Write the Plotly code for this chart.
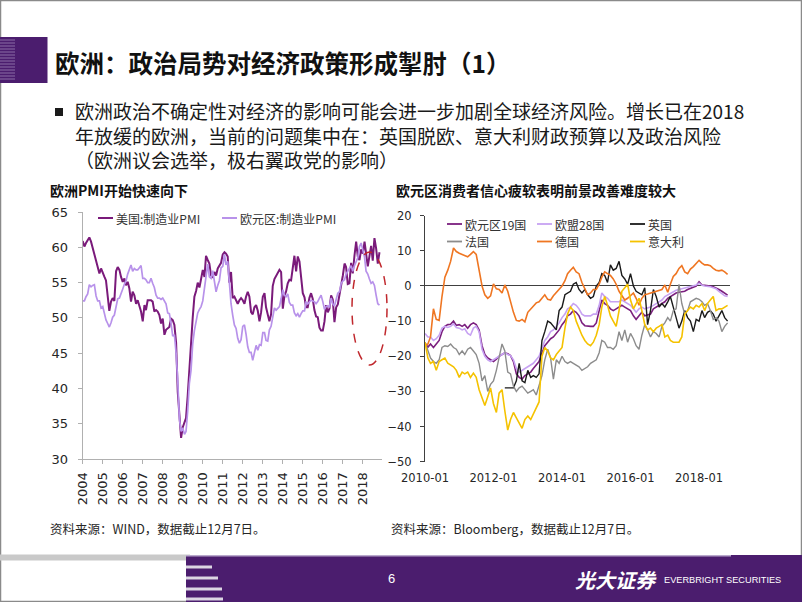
import plotly.graph_objects as go
import pandas as pd

# ---------------- data: left chart (manufacturing PMI, monthly 2004-01 .. 2018-11)
pmi_series_names = ["美国:制造业PMI", "欧元区:制造业PMI"]
us_pmi = [
    60.9, 60.1, 60.6, 61.0, 61.4, 60.8, 59.9, 58.9, 58.0, 57.0, 56.3, 57.0,
    56.5, 55.8, 55.3, 53.5, 51.0, 52.3, 52.8, 52.4, 56.6, 57.2, 56.8, 55.8,
    55.1, 55.6, 54.6, 55.1, 54.2, 52.3, 53.7, 53.2, 52.0, 52.5, 51.8, 50.9,
    49.5, 51.8, 51.1, 52.5, 52.5, 52.5, 52.3, 50.9, 51.1, 50.9, 50.4, 49.2,
    49.9, 47.6, 48.3, 48.5, 48.7, 49.9, 49.7, 49.0, 46.5, 39.5, 36.0, 33.0,
    34.5, 35.3, 35.8, 39.0, 43.0, 46.5, 50.0, 53.0, 53.8, 55.0, 54.3, 55.5,
    56.8, 55.8, 58.8, 58.2, 57.7, 56.0, 55.8, 56.5, 56.0, 57.0, 57.5, 57.8,
    59.0, 59.3, 59.1, 58.7, 55.0, 56.5, 52.8, 53.0, 52.5, 52.0, 52.5, 52.8,
    52.5, 52.0, 53.0, 53.7, 53.0, 50.8, 50.5, 51.5, 51.8, 51.0, 49.5, 50.8,
    53.0, 53.5, 51.5, 50.5, 49.5, 50.5, 54.5, 55.5, 56.0, 56.3, 56.8, 56.5,
    51.3, 53.2, 53.7, 54.9, 55.4, 55.3, 57.1, 58.8, 56.6, 58.7, 58.0, 55.5,
    53.5, 52.9, 51.5, 51.5, 52.8, 53.5, 52.7, 51.1, 50.2, 50.1, 48.6, 48.2,
    48.2, 49.5, 51.8, 50.8, 51.3, 53.2, 52.6, 49.4, 51.5, 51.9, 53.2, 54.7,
    56.0, 57.7, 57.2, 54.8, 54.9, 57.8, 56.3, 58.8, 60.8, 58.7, 58.2, 59.7,
    59.1, 60.8, 59.3, 57.3, 58.7, 60.2, 58.1, 61.3, 59.8, 57.7, 59.3,
]
ez_pmi = [
    52.4, 52.4, 53.0, 53.4, 54.7, 54.4, 54.6, 54.7, 53.1, 52.4, 52.4, 51.4,
    51.6, 50.4, 49.7, 49.2, 48.7, 49.3, 50.1, 50.4, 51.7, 52.7, 52.8, 53.6,
    54.1, 54.8, 55.2, 56.2, 56.9, 57.5, 56.6, 57.0, 56.8, 56.8, 57.1, 57.4,
    55.6, 55.6, 55.4, 55.0, 55.0, 55.6, 54.9, 54.3, 53.2, 52.8, 52.8, 52.6,
    52.8, 52.3, 52.0, 50.7, 50.6, 49.2, 47.4, 47.6, 45.0, 41.1, 35.6, 33.9,
    34.4, 33.5, 33.9, 36.8, 40.7, 42.6, 46.3, 48.2, 49.3, 50.7, 51.2, 51.6,
    52.4, 54.2, 56.6, 57.6, 55.8, 55.6, 56.7, 55.1, 53.7, 54.6, 55.3, 57.1,
    57.3, 59.0, 57.5, 58.0, 54.6, 52.0, 50.4, 49.0, 48.5, 47.1, 46.4, 46.9,
    48.8, 49.0, 47.7, 45.9, 45.1, 45.1, 44.0, 45.1, 46.1, 45.4, 46.2, 46.1,
    47.9, 47.9, 46.8, 46.7, 48.3, 48.8, 50.3, 51.4, 51.1, 51.3, 51.6, 52.7,
    54.0, 53.2, 53.0, 53.4, 52.2, 51.8, 51.8, 50.7, 50.3, 50.6, 50.1, 50.6,
    51.0, 51.0, 52.2, 52.0, 52.2, 52.5, 52.4, 52.3, 52.0, 52.3, 52.8, 53.2,
    52.3, 51.2, 51.6, 51.7, 51.5, 52.8, 52.0, 51.7, 52.6, 53.5, 53.7, 54.9,
    55.2, 55.4, 56.2, 56.7, 57.0, 57.4, 56.6, 57.4, 58.1, 58.5, 60.1, 60.6,
    59.6, 58.6, 56.6, 56.2, 55.5, 54.9, 55.1, 54.6, 53.2, 52.0, 51.8,
]
pmi_year_labels = ["2004", "2005", "2006", "2007", "2008", "2009", "2010", "2011",
                   "2012", "2013", "2014", "2015", "2016", "2017", "2018"]
pmi_y_ticks = [30, 35, 40, 45, 50, 55, 60, 65]

# ---------------- data: right chart (consumer confidence, monthly 2010-01 .. 2018-11)
cc_series_names = ["欧元区19国", "欧盟28国", "英国", "法国", "德国", "意大利"]
ea19_cc = [
    -16.2, -17.4, -16.5, -17.5, -16.5, -15.5, -13.0, -11.5, -11.0, -10.9, -10.0, -11.2,
    -11.0, -11.5, -11.0, -12.0, -11.0, -10.5, -11.0, -12.5, -17.0, -19.5, -20.5, -21.0,
    -21.5, -20.8, -20.0, -19.5, -19.0, -19.3, -19.8, -21.5, -25.0, -26.0, -26.5, -25.5,
    -25.0, -24.5, -23.5, -22.5, -21.5, -19.0, -17.0, -16.0, -15.0, -14.5, -13.5, -12.5,
    -11.0, -10.0, -8.5, -8.0, -7.0, -7.5, -8.5, -10.5, -11.3, -11.5, -11.5, -11.5,
    -10.5, -7.0, -4.0, -5.0, -5.5, -6.5, -7.0, -6.5, -6.0, -5.5, -6.0, -6.5,
    -7.0, -8.5, -9.5, -8.5, -7.5, -8.5, -8.3, -8.0, -6.5, -6.0, -5.5, -5.0,
    -4.5, -3.5, -3.0, -2.5, -2.0, -1.8, -1.6, -1.5, -1.0, -0.7, -0.5, 0.0,
    1.2, 0.3, 0.2, 0.2, 0.0, -0.2, -0.5, -1.0, -1.5, -2.0, -2.6,
]
eu28_cc = [
    -13.5, -14.5, -14.5, -15.5, -15.0, -14.0, -12.0, -11.5, -11.8, -11.5, -10.8, -11.8,
    -12.0, -12.5, -12.2, -13.5, -14.0, -12.0, -11.5, -13.0, -18.0, -20.0, -21.0, -21.5,
    -21.0, -20.5, -19.8, -19.3, -19.0, -19.5, -19.8, -21.0, -23.5, -24.5, -24.0, -23.5,
    -23.0, -22.5, -22.0, -21.0, -20.0, -17.8, -15.5, -14.5, -13.0, -12.5, -11.5, -10.5,
    -9.0, -8.0, -6.5, -6.0, -5.0, -5.5, -6.5, -8.0, -8.5, -8.5, -8.5, -8.0,
    -8.0, -5.5, -2.0, -3.0, -3.5, -4.5, -4.5, -4.5, -4.5, -4.0, -4.5, -5.0,
    -5.5, -6.5, -7.5, -6.5, -6.0, -6.5, -6.3, -6.0, -5.5, -5.0, -4.5, -4.0,
    -3.0, -2.5, -2.0, -1.5, -1.2, -1.0, -0.8, -0.5, -0.3, 0.0, 0.0, 0.3,
    0.8, 0.2, 0.0, 0.0, -0.2, -0.5, -0.8, -1.5, -2.2, -2.8, -3.0,
]
uk_cc = [None] * 28 + [
    -29.0, -29.0, -29.0, -29.0, -27.0, -22.0, -27.0, -27.5,
    -24.0, -26.0, -25.5, -26.0, -25.0, -15.5, -13.0, -10.0, -10.5, -11.5, -12.5, -7.0,
    -6.0, -2.5, -2.0, -1.5, 0.5, 1.0, -1.0, -2.0, -1.0, -2.5, -3.5, -3.0,
    0.0, 1.0, 3.5, 3.0, 1.0, 6.0, 4.5, 5.0, 7.0, 3.0, 2.0, 0.5,
    3.5, 0.0, -1.5, -2.0, -2.5, -0.5, -11.0, -7.0, -1.0, -3.0, -6.0, -5.0,
    -6.0, -4.5, -3.0, -6.0, -9.0, -12.0, -10.0, -7.0, -9.0, -10.0, -13.0, -9.5,
    -10.0, -7.0, -9.0, -7.5, -7.0, -8.0, -10.0, -8.5, -7.0, -9.0, -10.0,
]
fr_cc = [
    -16.0, -18.5, -20.5, -21.5, -22.0, -21.0, -17.5, -17.0, -17.2, -16.5, -17.5, -18.0,
    -19.5, -18.5, -19.5, -18.0, -17.5, -18.5, -19.5, -22.0, -27.0, -25.5, -30.0, -28.0,
    -27.0, -24.0, -20.0, -16.5, -18.5, -24.5, -25.0, -28.5, -30.0, -29.0, -28.5, -29.5,
    -30.5, -30.0, -29.5, -31.0, -28.0, -25.5, -21.0, -18.0, -20.5, -26.5, -21.0, -22.0,
    -20.0, -21.5, -22.0, -21.5, -22.0, -22.5, -23.0, -24.0, -23.5, -23.0, -22.0, -21.5,
    -21.0, -19.0, -15.5, -16.0, -17.5, -17.5, -18.0, -17.0, -13.0, -15.5, -12.5, -16.0,
    -13.5, -15.0, -17.0, -18.0, -14.0, -11.0, -12.5, -14.5, -13.0, -13.5, -14.5, -11.5,
    -10.5, -9.0, -10.0, -7.0, -6.5, 0.5, -5.0, -8.0, -7.0, -4.5, -4.0, -3.5,
    -3.8, -4.5, -5.5, -5.0, -7.0, -9.5, -9.0, -10.0, -13.0, -11.5, -10.5,
]
de_cc = [
    -17.0, -16.5, -14.5, -6.5, -9.5, -9.8, -3.0, 2.5, 4.5, 7.0, 10.8, 9.8,
    9.3, 9.0, 8.8, 8.3, 9.0, 9.8, 9.0, 4.0, 0.0, -2.5, -3.5, -2.8,
    0.6, -0.8, -1.0, -2.0, 0.3, -1.5, -4.5, -7.5, -9.8, -10.0, -9.5, -10.2,
    -7.5, -6.5, -5.5, -4.8, -4.5, -3.5, -2.5, -3.8, -4.0, -2.8, -1.8, -1.0,
    0.0, 1.5, 3.5, 4.5, 5.3, 4.0, 3.5, 1.0, -1.0, -2.5, -2.0, -1.0,
    -1.0, 0.5, 2.5, 4.0, 3.5, 3.0, 2.0, 0.5, -1.5, -2.8, -4.0, -3.5,
    -2.8, -2.0, -3.5, -5.5, -3.5, -2.5, -2.3, -2.0, -1.8, -1.6, -1.3, -1.0,
    0.3, -1.8, 0.5, 2.7, 3.5, 5.0, 5.8, 4.0, 3.5, 4.8, 5.5, 6.5,
    7.3, 6.5, 6.0, 6.0, 5.8, 5.0, 4.5, 4.3, 4.5, 4.0, 3.3,
]
it_cc = [
    -16.0, -20.5, -22.0, -21.5, -24.0, -21.5, -21.0, -20.5, -22.0, -22.5, -23.0, -24.0,
    -26.0, -24.5, -25.0, -24.5, -26.0, -24.8, -26.0, -29.5, -32.0, -34.0, -31.5, -29.0,
    -33.5, -36.0, -30.5, -29.5, -35.5, -41.0, -38.0, -36.0, -37.5, -39.0, -40.5, -38.0,
    -37.0, -38.0, -36.5, -35.0, -33.0, -20.0, -17.5, -18.5, -20.5, -21.0, -19.5, -18.5,
    -17.5, -12.0, -8.0, -6.0, -7.0, -10.0, -12.0, -14.0, -15.5, -16.5, -17.0, -16.0,
    -14.0, -11.0, -6.0, -3.0, -5.5, -8.5, -10.0, -11.5, -7.0, -1.5, -0.5, 0.5,
    -4.0, -6.5, -5.0, -3.5, -7.0, -11.0, -12.5, -12.0, -13.0, -12.0, -11.5, -11.0,
    -14.5, -14.0, -15.5, -16.0, -16.0, -16.0, -14.5, -8.0, -7.0, -6.0, -6.5, -5.5,
    -6.0, -5.0, -7.0, -5.0, -4.0, -3.0, -7.0, -6.5, -6.5, -6.0, -5.5,
]
cc_tick_labels = ["2010-01", "2012-01", "2014-01", "2016-01", "2018-01"]
cc_y_ticks = [-50, -40, -30, -20, -10, 0, 10, 20]

# ---------------- styling
W, H = 802, 602
PURPLE = "#4B1D6E"
CJK = "Noto Sans CJK SC"
NUM = "DejaVu Sans"
pmi_colors = ["#7A1A7A", "#B892EA"]
cc_colors = ["#7B1F7E", "#C7A2F2", "#1A1A1A", "#8C8C8C", "#EF7622", "#F5C200"]
cc_widths = [1.6, 1.6, 1.4, 1.4, 1.6, 1.6]


def px(x):
    return x / W


def py(y):
    return 1 - y / H


pmi_dates = pd.date_range("2004-01-01", periods=len(us_pmi), freq="MS")
cc_dates = pd.date_range("2010-01-01", periods=len(ea19_cc), freq="MS")

fig = go.Figure()

for name, vals, col, wd in zip(pmi_series_names, [us_pmi, ez_pmi], pmi_colors, [2.0, 1.7]):
    fig.add_trace(go.Scatter(x=pmi_dates, y=vals, mode="lines", name=name,
                             line=dict(color=col, width=wd), xaxis="x", yaxis="y",
                             showlegend=False, hoverinfo="skip"))

cc_values = [ea19_cc, eu28_cc, uk_cc, fr_cc, de_cc, it_cc]
for name, vals, col, wd in zip(cc_series_names, cc_values, cc_colors, cc_widths):
    fig.add_trace(go.Scatter(x=cc_dates, y=vals, mode="lines", name=name,
                             line=dict(color=col, width=wd), xaxis="x2", yaxis="y2",
                             showlegend=False, connectgaps=False, hoverinfo="skip"))

tick_font = dict(family=NUM, size=13, color="#262626")
tick_font2 = dict(family=NUM, size=11.5, color="#262626")

fig.update_layout(
    width=W, height=H, autosize=False,
    margin=dict(l=0, r=0, t=0, b=0, pad=0),
    paper_bgcolor="white", plot_bgcolor="rgba(0,0,0,0)",
    showlegend=False,
    xaxis=dict(domain=[px(82.7), px(381.9)], type="date",
               range=["2004-01-01", "2018-12-15"],
               tickvals=[f"{y}-01-01" for y in pmi_year_labels], ticktext=pmi_year_labels,
               tickangle=-90, ticks="outside", ticklen=4, tickcolor="#b0b0b0",
               showline=True, linecolor="#b0b0b0", linewidth=1,
               showgrid=False, zeroline=False, tickfont=tick_font, anchor="y",
               ticklabelstandoff=3, automargin=False),
    yaxis=dict(domain=[py(459), py(212)], range=[30, 65], tickvals=pmi_y_ticks,
               ticks="outside", ticklen=4, tickcolor="#b0b0b0",
               showline=True, linecolor="#b0b0b0", linewidth=1,
               showgrid=False, zeroline=False, tickfont=tick_font,
               ticklabelstandoff=7, anchor="x", automargin=False),
    xaxis2=dict(domain=[px(425), px(730.4)], type="date",
                range=["2010-01-01", "2018-12-01"],
                tickvals=[f"{t}-01" for t in cc_tick_labels], ticktext=cc_tick_labels,
                tickangle=0, ticks="", showline=False, showgrid=False, zeroline=False,
                tickfont=tick_font2, anchor="y2", ticklabelstandoff=8, automargin=False),
    yaxis2=dict(domain=[py(461.7), py(215.7)], range=[-50, 20], tickvals=cc_y_ticks,
                ticks="outside", ticklen=4, tickcolor="#404040",
                showline=True, linecolor="#404040", linewidth=1,
                showgrid=False, zeroline=True, zerolinecolor="#404040", zerolinewidth=1,
                tickfont=tick_font2, ticklabelstandoff=6, anchor="x2", automargin=False),
)

shapes = []
annotations = []


def rect(x0, y0, x1, y1, color):
    shapes.append(dict(type="rect", xref="paper", yref="paper",
                       x0=px(x0), x1=px(x1), y0=py(y1), y1=py(y0),
                       fillcolor=color, line=dict(width=0), layer="above"))


def hline(x0, x1, y, color, width):
    shapes.append(dict(type="line", xref="paper", yref="paper",
                       x0=px(x0), x1=px(x1), y0=py(y), y1=py(y),
                       line=dict(color=color, width=width)))


def text(x, y, s, size, color="#1a1a1a", family=CJK, xanchor="left", align="left"):
    annotations.append(dict(x=px(x), y=py(y), xref="paper", yref="paper", text=s,
                            showarrow=False, xanchor=xanchor, yanchor="middle", align=align,
                            font=dict(family=family, size=size, color=color)))


# slide frame
shapes.append(dict(type="rect", xref="paper", yref="paper", x0=px(0.5), x1=px(801.5),
                   y0=py(601.5), y1=py(0.5), line=dict(color="#8a8a8a", width=1.5),
                   fillcolor="rgba(0,0,0,0)"))

# title block
rect(0, 37, 47.5, 83, PURPLE)
for k in range(14):
    hline(0, 15, 40 + k * 3, "rgba(220,210,235,0.45)", 1)
text(53, 63, "<b>欧洲：政治局势对经济政策形成掣肘（1）</b>", 24.5, "#111111")

# bullet text (one block, three lines)
rect(55, 108, 63, 116, "#1a1a1a")
text(73, 134.5,
     "欧洲政治不确定性对经济的影响可能会进一步加剧全球经济风险。增长已在2018"
     "<br>年放缓的欧洲，当前的问题集中在：英国脱欧、意大利财政预算以及政治风险"
     "<br>（欧洲议会选举，极右翼政党的影响）", 19, "#1a1a1a")

# chart titles
text(48, 190, "<b>欧洲PMI开始快速向下</b>", 14, "#111111")
text(394, 190, "<b>欧元区消费者信心疲软表明前景改善难度较大</b>", 14, "#111111")

# left legend (compact samples)
for name, col, x0 in zip(pmi_series_names, pmi_colors, [98, 222]):
    hline(x0, x0 + 15, 218, col, 2)
    text(x0 + 15.5, 218, name, 12, "#333333")

# right legend (3 columns x 2 rows)
cc_leg_x = [447, 537, 630, 447, 537, 630]
cc_leg_y = [224, 224, 224, 241.5, 241.5, 241.5]
for name, col, x0, y0 in zip(cc_series_names, cc_colors, cc_leg_x, cc_leg_y):
    hline(x0, x0 + 15, y0, col, 1.8)
    text(x0 + 15.5, y0, name, 12, "#333333")

# red dashed ellipse highlight
shapes.append(dict(type="circle", xref="paper", yref="paper",
                   x0=px(352), x1=px(387), y0=py(365), y1=py(252),
                   line=dict(color="#C0282D", width=1.5, dash="dash"),
                   fillcolor="rgba(0,0,0,0)", layer="above"))

# sources
text(48, 528, "资料来源：WIND，数据截止12月7日。", 12.5, "#262626")
text(389, 528, "资料来源：Bloomberg，数据截止12月7日。", 12.5, "#262626")

# footer
rect(0, 554.5, 190, 560.5, "#c9c9c9")
rect(186, 555, 802, 602, PURPLE)
hline(186, 731, 555.8, "#b9a9cc", 1.5)
for y0, x1 in zip([565.5, 576.5, 587.5, 597.5], [212, 218, 222, 223]):
    rect(186, y0, x1, y0 + 3, "#dcd6e3")
text(391, 578, "6", 13, "white", family="Liberation Sans", xanchor="center")
text(573, 579, "<b><i>光大证券</i></b>", 20, "white")
text(662, 580, "EVERBRIGHT SECURITIES", 9.2, "white",
     family="Liberation Sans Narrow, Liberation Sans")

fig.update_layout(shapes=shapes, annotations=annotations)

fig.write_html("out.html", include_plotlyjs=True,
               config={"displayModeBar": False},
               post_script="document.body.style.margin='0';document.body.style.overflow='hidden';")
